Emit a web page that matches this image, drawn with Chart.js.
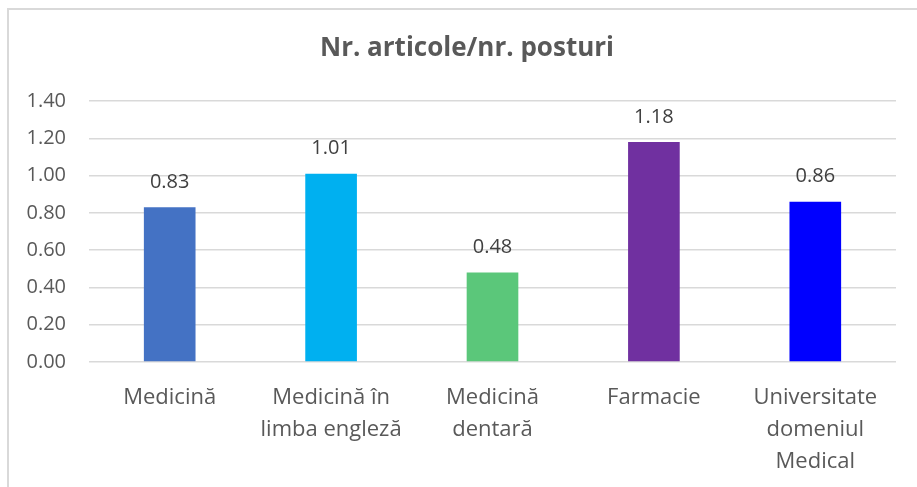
<!DOCTYPE html>
<html>
<head>
<meta charset="utf-8">
<script src="https://cdn.jsdelivr.net/npm/chart.js@4.4.1/dist/chart.umd.min.js"></script>
<style>
  html, body { margin: 0; padding: 0; background: #fff; overflow: hidden; }
  #frame {
    position: absolute; left: 7px; top: 8px; width: 960px; height: 540px;
    border: 2px solid #d9d9d9; box-sizing: border-box;
  }
  #wrap { position: absolute; left: 0; top: 0; width: 917px; height: 487px; }
</style>
</head>
<body>
<div id="frame"></div>
<div id="wrap"><canvas id="chart"></canvas></div>
<script>
const chartTitle = 'Nr. articole/nr. posturi';
const categories = [
  ['Medicină'],
  ['Medicină în', 'limba engleză'],
  ['Medicină', 'dentară'],
  ['Farmacie'],
  ['Universitate', 'domeniul', 'Medical']
];
const values = [0.83, 1.01, 0.48, 1.18, 0.86];
const barColors = ['#4472C4', '#00B0F0', '#5BC77A', '#7030A0', '#0000FF'];
const yTicks = [0, 0.2, 0.4, 0.6, 0.8, 1.0, 1.2, 1.4];

const FONT = '"Open Sans", Lato, sans-serif';

// value above each bar + title centred on the frame
const extras = {
  id: 'extras',
  afterDatasetsDraw(chart) {
    const ctx = chart.ctx;
    const meta = chart.getDatasetMeta(0);
    ctx.save();
    ctx.font = '20px ' + FONT;
    ctx.fillStyle = '#404040';
    ctx.textAlign = 'center';
    ctx.textBaseline = 'middle';
    meta.data.forEach((bar, i) => {
      ctx.fillText(values[i].toFixed(2), bar.x, bar.y - 25);
    });
    ctx.font = 'bold 26px ' + FONT;
    ctx.fillStyle = '#595959';
    ctx.fillText(chartTitle, 467, 49);
    ctx.restore();
  }
};

new Chart(document.getElementById('chart'), {
  type: 'bar',
  data: {
    labels: categories,
    datasets: [{
      data: values,
      backgroundColor: barColors,
      barPercentage: 0.4,
      categoryPercentage: 0.8
    }]
  },
  options: {
    responsive: true,
    maintainAspectRatio: false,
    animation: false,
    layout: { padding: { left: 0, right: 21, top: 101, bottom: 0 } },
    plugins: {
      legend: { display: false },
      tooltip: { enabled: false },
      title: { display: false }
    },
    scales: {
      y: {
        min: 0,
        max: 1.4,
        afterFit: s => { s.width = 89; },
        afterBuildTicks: s => { s.ticks = yTicks.map(v => ({ value: v })); },
        grid: { color: '#d9d9d9', lineWidth: 1.5, drawTicks: false },
        border: { display: false },
        ticks: {
          padding: 23,
          color: '#595959',
          font: { family: FONT, size: 20 },
          callback: v => v.toFixed(2)
        }
      },
      x: {
        afterFit: s => { s.height = 125; },
        grid: { display: false, drawTicks: false },
        border: { display: false },
        ticks: {
          padding: 20,
          color: '#595959',
          maxRotation: 0,
          autoSkip: false,
          font: { family: FONT, size: 22, lineHeight: 1.45 }
        }
      }
    }
  },
  plugins: [extras]
});
</script>
</body>
</html>
